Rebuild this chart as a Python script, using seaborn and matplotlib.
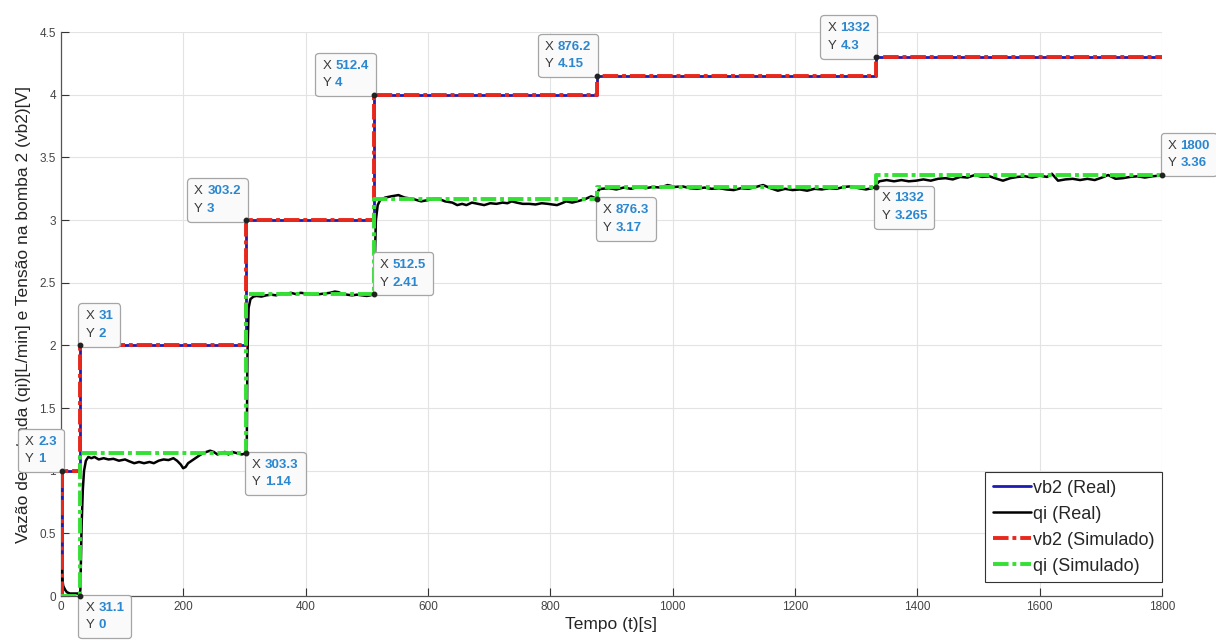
import matplotlib
matplotlib.use("Agg")
import matplotlib.pyplot as plt
from matplotlib.offsetbox import TextArea, HPacker, VPacker, AnnotationBbox
import seaborn as sns

# vb2 step input (real and simulated are the same)
t_vb2 = [0, 2.3, 31, 303.2, 512.4, 876.2, 1332, 1800]
vb2 = [0, 1, 2, 3, 4, 4.15, 4.3, 4.3]

# qi simulated (step-like response)
t_qi_sim = [0, 31.1, 303.3, 512.5, 876.3, 1332, 1800]
qi_sim = [0, 1.14, 2.41, 3.17, 3.265, 3.36, 3.36]

t_qi = [0, 1, 2, 4, 7, 10, 15, 20, 25, 31,
        32, 34, 36, 38, 41, 45,
        50, 55, 62, 70, 78, 86, 95, 105, 112, 120, 128, 136, 145, 152, 160, 168,
        176, 184, 190, 196, 200, 204, 208, 214, 220, 226, 232, 238, 244, 250, 256,
        262, 268, 274, 280, 288, 296, 303,
        304, 305, 307, 310, 315,
        320, 328, 336, 344, 352, 360, 368, 376, 384, 392, 400, 408, 416, 424, 432,
        440, 448, 454, 460, 468, 476, 484, 492, 500, 506, 512.5,
        513, 515, 518, 522,
        530, 540, 552, 562, 575, 589, 600, 610, 618, 628, 640, 648, 656, 663, 672,
        682, 692, 702, 712, 722, 730, 737, 745, 755, 766, 776, 786, 796, 804, 811,
        819, 826, 836, 848, 858, 867, 876.3,
        877, 880, 884, 896, 908, 920, 932, 944, 956, 968, 980, 992, 1004, 1016,
        1028, 1040, 1052, 1064, 1076, 1088, 1100, 1112, 1124, 1136, 1148, 1160,
        1172, 1184, 1196, 1208, 1220, 1232, 1244, 1256, 1268, 1280, 1292, 1304,
        1316, 1326, 1332,
        1334, 1338, 1350, 1362, 1374, 1386, 1398, 1410, 1422, 1434, 1446, 1458,
        1470, 1482, 1494, 1506, 1518, 1530, 1540, 1552, 1564, 1576, 1588, 1600,
        1612, 1620, 1630, 1642, 1654, 1666, 1678, 1690, 1702, 1712, 1724, 1736,
        1748, 1760, 1772, 1784, 1796, 1800]
qi = [0, 0.21, 0.15, 0.08, 0.05, 0.03, 0.02, 0.02, 0.02, 0.02,
      0.05, 0.56, 0.85, 1.0, 1.08, 1.11,
      1.10, 1.11, 1.09, 1.10, 1.09, 1.095, 1.08, 1.09, 1.075, 1.06, 1.07, 1.06, 1.07, 1.06, 1.08, 1.09,
      1.085, 1.10, 1.08, 1.05, 1.02, 1.03, 1.06, 1.08, 1.10, 1.12, 1.14, 1.15, 1.16, 1.15, 1.13,
      1.14, 1.15, 1.13, 1.15, 1.14, 1.13, 1.14,
      1.2, 1.9, 2.3, 2.37, 2.39,
      2.395, 2.39, 2.40, 2.405, 2.40, 2.415, 2.41, 2.42, 2.41, 2.42, 2.415, 2.41, 2.405, 2.41, 2.415,
      2.42, 2.43, 2.425, 2.41, 2.405, 2.40, 2.405, 2.40, 2.395, 2.40, 2.41,
      2.6, 3.0, 3.12, 3.16,
      3.18, 3.19, 3.20, 3.18, 3.17, 3.15, 3.16, 3.17, 3.17, 3.15, 3.14, 3.12, 3.13, 3.12, 3.14,
      3.13, 3.12, 3.135, 3.13, 3.14, 3.135, 3.15, 3.14, 3.13, 3.13, 3.125, 3.135, 3.13, 3.125, 3.12,
      3.135, 3.15, 3.14, 3.155, 3.17, 3.19, 3.17,
      3.22, 3.245, 3.25, 3.255, 3.245, 3.26, 3.25, 3.265, 3.255, 3.265, 3.26, 3.28, 3.265, 3.27,
      3.255, 3.25, 3.26, 3.25, 3.255, 3.245, 3.24, 3.255, 3.25, 3.265, 3.28, 3.255,
      3.235, 3.25, 3.24, 3.245, 3.235, 3.25, 3.245, 3.255, 3.25, 3.265, 3.27, 3.255,
      3.245, 3.255, 3.265,
      3.29, 3.31, 3.32, 3.31, 3.32, 3.31, 3.315, 3.325, 3.315, 3.33, 3.335, 3.325,
      3.345, 3.34, 3.36, 3.345, 3.35, 3.33, 3.315, 3.335, 3.345, 3.35, 3.34, 3.355,
      3.345, 3.37, 3.315, 3.325, 3.33, 3.32, 3.33, 3.32, 3.34, 3.36, 3.33, 3.335,
      3.345, 3.35, 3.34, 3.35, 3.355, 3.36]

# data tips: x, y, and which corner of the box sits on the point
tip_x = [2.3, 31, 31.1, 303.3, 303.2, 512.4, 512.5, 876.2, 876.3, 1332, 1332, 1800]
tip_y = [1, 2, 0, 1.14, 3, 4, 2.41, 4.15, 3.17, 4.3, 3.265, 3.36]
tip_xs = ["2.3", "31", "31.1", "303.3", "303.2", "512.4", "512.5", "876.2", "876.3", "1332", "1332", "1800"]
tip_ys = ["1", "2", "0", "1.14", "3", "4", "2.41", "4.15", "3.17", "4.3", "3.265", "3.36"]
tip_corner = [(1, 0), (0, 0), (0, 1), (0, 1), (1, 0), (1, 0), (0, 0), (1, 0), (0, 1), (1, 0), (0, 1), (0, 0)]

sns.set_style("whitegrid", {"grid.color": "#e3e3e3", "axes.edgecolor": "#333333"})
plt.rcParams["font.family"] = ["Liberation Sans", "DejaVu Sans"]

fig = plt.figure(figsize=(12.16, 6.44), dpi=100)
ax = fig.add_axes([0.050, 0.0745, 0.9056, 0.8755])

sns.lineplot(x=t_vb2, y=vb2, ax=ax, color="#1c1cb4", lw=2.0, drawstyle="steps-post",
             estimator=None, sort=False, label="vb2 (Real)", zorder=3)
sns.lineplot(x=t_qi, y=qi, ax=ax, color="black", lw=1.8,
             estimator=None, sort=False, label="qi (Real)", zorder=3)
sns.lineplot(x=t_vb2, y=vb2, ax=ax, color="#e8281c", lw=2.8, drawstyle="steps-post",
             linestyle=(0, (4, 1, 1, 1)), estimator=None, sort=False,
             label="vb2 (Simulado)", zorder=4)
sns.lineplot(x=t_qi_sim, y=qi_sim, ax=ax, color="#33e033", lw=2.8, drawstyle="steps-post",
             linestyle=(0, (4, 1, 1, 1)), estimator=None, sort=False,
             label="qi (Simulado)", zorder=4)

ax.set_xlim(0, 1800)
ax.set_ylim(0, 4.5)
ax.set_xticks(range(0, 1801, 200))
ax.set_yticks([i * 0.5 for i in range(10)])
ax.set_yticklabels(["%g" % (i * 0.5) for i in range(10)])
ax.tick_params(direction="in", length=6, width=0.8, colors="#333333", labelsize=8.5,
               labelcolor="#444444", left=True, bottom=True)
for s in ["top", "right"]:
    ax.spines[s].set_visible(False)
for s in ["left", "bottom"]:
    ax.spines[s].set_color("#555555")
    ax.spines[s].set_linewidth(0.9)
ax.grid(True, color="#e3e3e3", lw=0.8)

ax.set_xlabel("Tempo (t)[s]", fontsize=12.5, color="#262626", labelpad=3)
ax.set_ylabel("Vazão de entrada (qi)[L/min] e Tensão na bomba 2 (vb2)[V]", fontsize=12.5,
              color="#262626", labelpad=6)

leg = ax.legend(loc="lower right", bbox_to_anchor=(1.0, 0.025), borderaxespad=0,
                fontsize=13, frameon=True, fancybox=False, edgecolor="#333333",
                framealpha=1, handlelength=2.1, handletextpad=0.15,
                labelspacing=0.5, borderpad=0.4)
leg.get_frame().set_linewidth(0.8)
leg.set_zorder(20)

for x, y, xs, ys, c in zip(tip_x, tip_y, tip_xs, tip_ys, tip_corner):
    rows = []
    for k, v in (("X", xs), ("Y", ys)):
        rows.append(HPacker(children=[
            TextArea(k, textprops=dict(color="#3a3a3a", size=9.5)),
            TextArea(v, textprops=dict(color="#2b87cf", size=9.5, weight="bold"))],
            sep=3, pad=0, align="baseline"))
    box = VPacker(children=rows, sep=4, pad=0, align="left")
    dx = 4 if c[0] == 0 else -4
    dy = 4 if c[1] == 0 else -4
    ab = AnnotationBbox(box, (x, y), xybox=(dx, dy), boxcoords="offset points",
                        box_alignment=c, frameon=True, fontsize=10, annotation_clip=False,
                        bboxprops=dict(boxstyle="round,pad=0.5,rounding_size=0.25",
                                       fc="#fafafa", ec="#a5a5a5", lw=0.9))
    ab.set_zorder(30)
    ax.add_artist(ab)
    ax.plot(x, y, "o", color="#222222", ms=3.2, zorder=31, clip_on=False)

fig.savefig("out.png", dpi=100)
